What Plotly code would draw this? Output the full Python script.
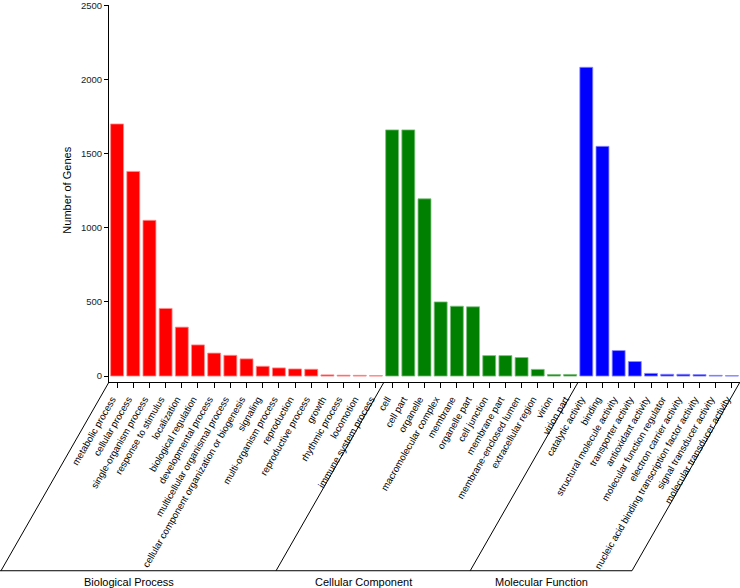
import plotly.graph_objects as go

bp_terms = ["metabolic process", "cellular process", "single-organism process",
            "response to stimulus", "localization", "biological regulation",
            "developmental process", "multicellular organismal process",
            "cellular component organization or biogenesis", "signaling",
            "multi-organism process", "reproduction", "reproductive process",
            "growth", "rhythmic process", "locomotion", "immune system process"]
bp_values = [1700, 1380, 1050, 456, 330, 210, 155, 140, 116, 66, 55, 48, 46, 8, 6, 5, 3]

cc_terms = ["cell", "cell part", "organelle", "macromolecular complex", "membrane",
            "organelle part", "cell junction", "membrane part", "membrane-enclosed lumen",
            "extracellular region", "virion", "virion part"]
cc_values = [1660, 1660, 1195, 500, 471, 467, 138, 138, 125, 45, 11, 11]

mf_terms = ["catalytic activity", "binding", "structural molecule activity",
            "transporter activity", "antioxidant activity", "molecular function regulator",
            "electron carrier activity", "nucleic acid binding transcription factor activity",
            "signal transducer activity", "molecular transducer activity"]
mf_values = [2082, 1549, 172, 98, 18, 12, 12, 10, 5, 3]

group_names = ["Biological Process", "Cellular Component", "Molecular Function"]
y_ticks = [0, 500, 1000, 1500, 2000, 2500]

groups = [
    (bp_terms, bp_values, "#FF0000", "#FF8C8C"),
    (cc_terms, cc_values, "#008000", "#7FBF7F"),
    (mf_terms, mf_values, "#0000FF", "#8C8CFF"),
]

FONT = "Liberation Sans, Arial, sans-serif"
W, H = 740, 588
ML, MR, MT, MB = 109, 0, 4.5, 206
PW = W - ML - MR
PH = H - MT - MB

fig = go.Figure()
for terms, vals, col, edge in groups:
    fig.add_trace(go.Bar(x=terms, y=vals, marker=dict(color=col, line=dict(color=edge, width=0.8)),
                         showlegend=False))

all_terms = bp_terms + cc_terms + mf_terms
n = len(all_terms)

# bracket lines below the axis
drop_px = 189
slant_px = drop_px / 1.75
shapes = []
bounds = [0]
for terms, _, _, _ in groups:
    bounds.append(bounds[-1] + len(terms))
for b in bounds:
    xp = b / n
    shapes.append(dict(type="line", xref="paper", yref="paper",
                       x0=xp, y0=0, x1=xp - slant_px / PW, y1=-drop_px / PH,
                       line=dict(color="black", width=1)))
shapes.append(dict(type="line", xref="paper", yref="paper",
                   x0=-ML / PW, y0=-drop_px / PH, x1=1 - slant_px / PW, y1=-drop_px / PH,
                   line=dict(color="black", width=1)))

annotations = []
for i, name in enumerate(group_names):
    c = (bounds[i] + bounds[i + 1]) / 2 / n
    annotations.append(dict(text=name, xref="paper", yref="paper", x=c, y=-drop_px / PH,
                            xshift=-slant_px - 10, yshift=-11, showarrow=False,
                            xanchor="center", yanchor="middle",
                            font=dict(size=11, color="black", family=FONT)))
annotations.append(dict(text="Number of Genes", xref="paper", yref="y", x=0, y=1250,
                        xshift=-42, textangle=-90, showarrow=False,
                        xanchor="center", yanchor="middle",
                        font=dict(size=11, color="black", family=FONT)))

fig.update_layout(
    width=W, height=H,
    margin=dict(l=ML, r=MR, t=MT, b=MB),
    plot_bgcolor="white", paper_bgcolor="white",
    barmode="overlay", bargap=0.2,
    font=dict(family=FONT, color="black"),
    shapes=shapes, annotations=annotations,
    xaxis=dict(categoryorder="array", categoryarray=all_terms, tickangle=-60,
               showline=True, linecolor="black", linewidth=1,
               ticks="outside", ticklen=5, tickcolor="black", tickwidth=1,
               tickfont=dict(size=9.6, color="black", family=FONT),
               ticklabelshift=-5, ticklabelstandoff=2,
               showgrid=False, zeroline=False, automargin=False,
               range=[-0.5, n - 0.5]),
    yaxis=dict(range=[-40, 2502], tickvals=y_ticks, ticktext=[str(v) for v in y_ticks],
               showline=True, linecolor="black", linewidth=1,
               ticks="outside", ticklen=4, tickcolor="black", tickwidth=1,
               tickfont=dict(size=9.5, color="#222222", family=FONT),
               ticklabeloverflow="allow",
               showgrid=False, zeroline=False, automargin=False),
)

fig.write_html("out.html", config={"displayModeBar": False},
               post_script="document.body.style.margin='0';document.body.style.overflow='hidden';")
